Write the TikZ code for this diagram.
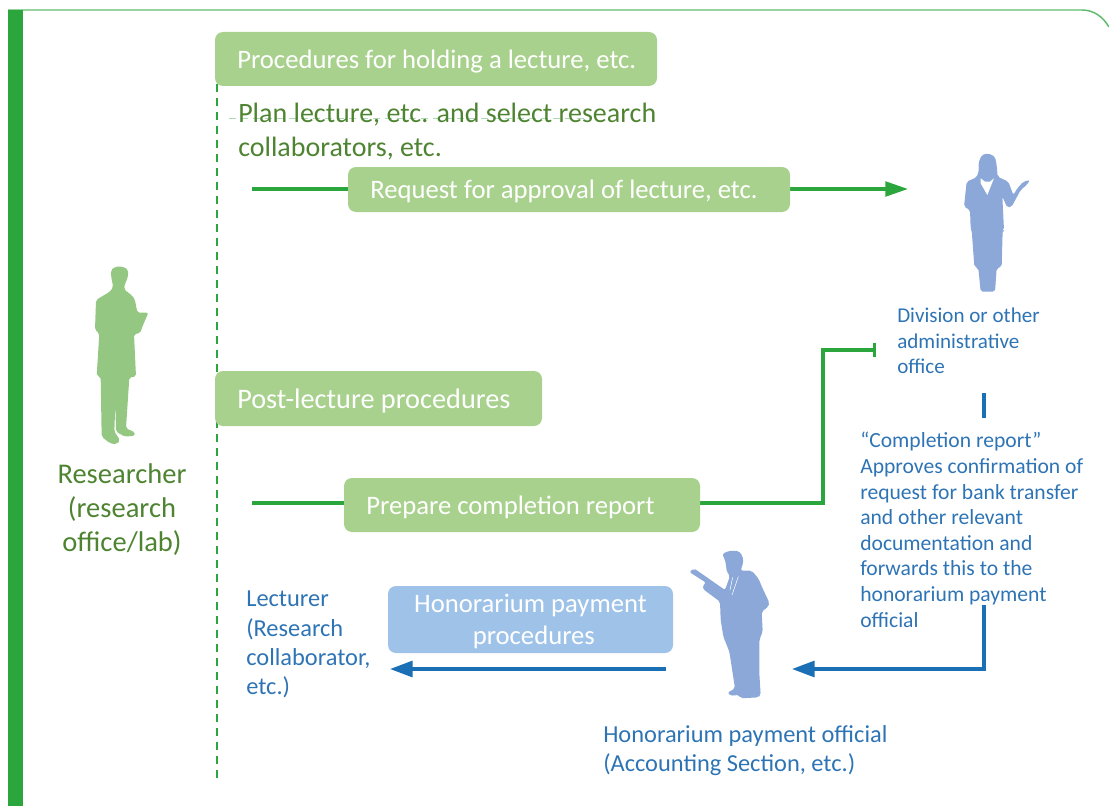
\documentclass[tikz,border=0pt]{standalone}
\usepackage{fontspec}
\setmainfont{Carlito}
\usetikzlibrary{arrows.meta}
\definecolor{brgreen}{HTML}{2BA63C}
\definecolor{edgegreen}{HTML}{5DBB6B}
\definecolor{boxgreen}{HTML}{A9D18E}
\definecolor{silgreen}{HTML}{93C782}
\definecolor{txtgreen}{HTML}{4E8431}
\definecolor{txtblue}{HTML}{2E74B5}
\definecolor{lineblue}{HTML}{1A6FB5}
\definecolor{boxblue}{HTML}{9FC3E8}
\definecolor{silblue}{HTML}{8CA8D8}
\tikzset{
  box/.style={fill=boxgreen,rounded corners=6pt,inner sep=0pt},
  boxtxt/.style={text=white,anchor=base west,inner sep=0pt,font=\fontsize{20}{24}\selectfont},
  greentxt/.style={text=txtgreen,anchor=north west,inner sep=0pt,align=left,font=\fontsize{21}{25.5}\selectfont},
  bluetxt/.style={text=txtblue,anchor=north west,inner sep=0pt,align=left,font=\fontsize{15.8}{19.15}\selectfont},
  bluetxtc/.style={text=txtblue,anchor=north west,inner sep=0pt,align=left,font=\fontsize{16.2}{19.2}\selectfont},
  bluetxtb/.style={text=txtblue,anchor=north west,inner sep=0pt,align=left,font=\fontsize{18.3}{22}\selectfont},
  gline/.style={draw=brgreen,line width=2.4pt},
  bline/.style={draw=lineblue,line width=2.4pt},
  gtip/.style={-{Triangle[length=17pt,width=11pt,fill=brgreen]}},
  btip/.style={-{Triangle[length=17pt,width=12pt,fill=lineblue]}},
}
\begin{document}
\begin{tikzpicture}[x=0.75pt,y=-0.75pt]
\useasboundingbox (0,0) rectangle (1109,806);
% frame
\coordinate (frameA) at (8,10);
\coordinate (frameB) at (1082,10);
\coordinate (frameC) at (1109,27);
\draw[edgegreen,line width=1.1pt] (frameA) -- (frameB) .. controls (1094,10) and (1103,17) .. (frameC);
\fill[brgreen] (8,10) rectangle (23,806);
% dashed rule
\coordinate (dashT) at (217,84);
\coordinate (dashB) at (217,783);
\draw[brgreen,line width=1.1pt,dash pattern=on 6pt off 4.5pt] (dashT) -- (dashB);
\coordinate (ruleL) at (229,118);
\coordinate (ruleR) at (590,118);
\draw[brgreen!40,line width=0.25pt,dash pattern=on 5pt off 4pt] (ruleL) -- (ruleR);
% connectors behind boxes
\coordinate (g1a) at (252,189);
\coordinate (g1b) at (908,189);
\draw[gline,gtip] (g1a) -- (g1b);
\coordinate (g2a) at (252,503);
\coordinate (g2b) at (823,503);
\coordinate (g2c) at (823,350);
\coordinate (g2d) at (876,350);
\draw[gline,-{Bar[width=11pt,length=0pt]}] (g2a) -- (g2b) -- (g2c) -- (g2d);
\coordinate (bbarT) at (984,393);
\coordinate (bbarB) at (984,418);
\draw[bline] (bbarT) -- (bbarB);
\coordinate (b1a) at (984,605);
\coordinate (b1b) at (984,669);
\coordinate (b1c) at (792,669);
\draw[bline,btip] (b1a) -- (b1b) -- (b1c);
\coordinate (b2a) at (666,669);
\coordinate (b2b) at (390,669);
\draw[bline,btip] (b2a) -- (b2b);
% boxes
\fill[box] (215,32) rectangle (657,86);
\fill[box] (348,167) rectangle (790,212);
\fill[box] (215,371) rectangle (542,426);
\fill[box] (344,478) rectangle (700,532);
\fill[box,fill=boxblue] (388,586) rectangle (673,653);
% box texts
\node[boxtxt] (t1) at (237,69) {Procedures for holding a lecture, etc.};
\node[boxtxt] (t2) at (370,198) {Request for approval of lecture, etc.};
\node[boxtxt,font=\fontsize{21.2}{24}\selectfont] (t3) at (237,408) {Post-lecture procedures};
\node[boxtxt] (t4) at (366,514) {Prepare completion report};
\node[text=white,inner sep=0pt,align=center,font=\fontsize{20}{24}\selectfont] (t5) at (530.5,621.5) {Honorarium payment\\\hspace*{5pt}procedures};
% plain texts
\node[greentxt] (plan) at (238,103) {Plan lecture, etc. and select research\\collaborators, etc.};
\node[text=txtgreen,inner sep=0pt,align=center,font=\fontsize{21.4}{25.5}\selectfont] (res) at (122,510) {Researcher\\(research\\office/lab)};
\node[bluetxt] (div) at (897,308) {Division or other\\administrative\\office};
\node[bluetxtc] (rep) at (860,432) {“Completion report”\\Approves confirmation of\\request for bank transfer\\and other relevant\\documentation and\\forwards this to the\\honorarium payment\\official};
\node[bluetxtb] (lec) at (246,591) {Lecturer\\(Research\\collaborator,\\etc.)};
\node[bluetxtb] (off) at (603,725) {Honorarium payment official\\(Accounting Section, etc.)};
% researcher
\begin{scope}[shift={(60,250)},x=0.25pt,y=-0.25pt]
\fill[silgreen,rounded corners=1.5pt] (152,62) -- (165,50) -- (190,50) -- (205,60) -- (203,85) -- (195,100) -- (192,118) -- (218,138) -- (225,150) -- (232,188) -- (265,188) -- (248,228) -- (240,250) -- (222,252) -- (228,380) -- (208,382) -- (198,535) -- (225,547) -- (225,557) -- (195,560) -- (168,545) -- (166,460) -- (163,545) -- (180,570) -- (170,583) -- (150,580) -- (125,560) -- (122,380) -- (110,378) -- (118,250) -- (105,240) -- (108,150) -- (150,125) -- (160,110) -- (155,90) -- cycle;
\end{scope}
% woman
\begin{scope}[shift={(930,140)},x=0.25pt,y=-0.25pt]
\fill[silblue,rounded corners=1.5pt] (145,70) -- (155,45) -- (175,40) -- (195,50) -- (200,75) -- (203,110) -- (235,125) -- (250,165) -- (262,145) -- (280,125) -- (300,120) -- (290,135) -- (272,150) -- (245,200) -- (232,203) -- (217,170) -- (222,270) -- (218,272) -- (215,380) -- (200,385) -- (195,455) -- (152,455) -- (145,385) -- (133,380) -- (125,270) -- (122,265) -- (120,210) -- (102,200) -- (110,125) -- (140,112) -- (147,90) -- cycle;
\fill[white] (152,115) -- (165,125) -- (180,125) -- (192,115) -- (172,165) -- (152,130) -- cycle;
\end{scope}
% man
\begin{scope}[shift={(670,540)},x=0.25pt,y=-0.25pt]
\fill[silblue,rounded corners=1.5pt] (157,42) -- (175,33) -- (205,32) -- (218,48) -- (220,70) -- (213,85) -- (213,92) -- (245,92) -- (265,115) -- (280,150) -- (298,188) -- (295,200) -- (275,215) -- (278,275) -- (268,300) -- (268,400) -- (272,465) -- (265,472) -- (212,475) -- (208,465) -- (180,467) -- (173,458) -- (195,445) -- (185,380) -- (178,335) -- (160,290) -- (152,240) -- (150,185) -- (100,148) -- (97,138) -- (108,128) -- (58,96) -- (72,85) -- (125,122) -- (165,150) -- (180,108) -- (170,95) -- (168,75) -- (165,60) -- cycle;
\draw[white,line width=0.4pt] (188,112) -- (180,150) (205,110) -- (186,165);
\end{scope}
\end{tikzpicture}
\end{document}
